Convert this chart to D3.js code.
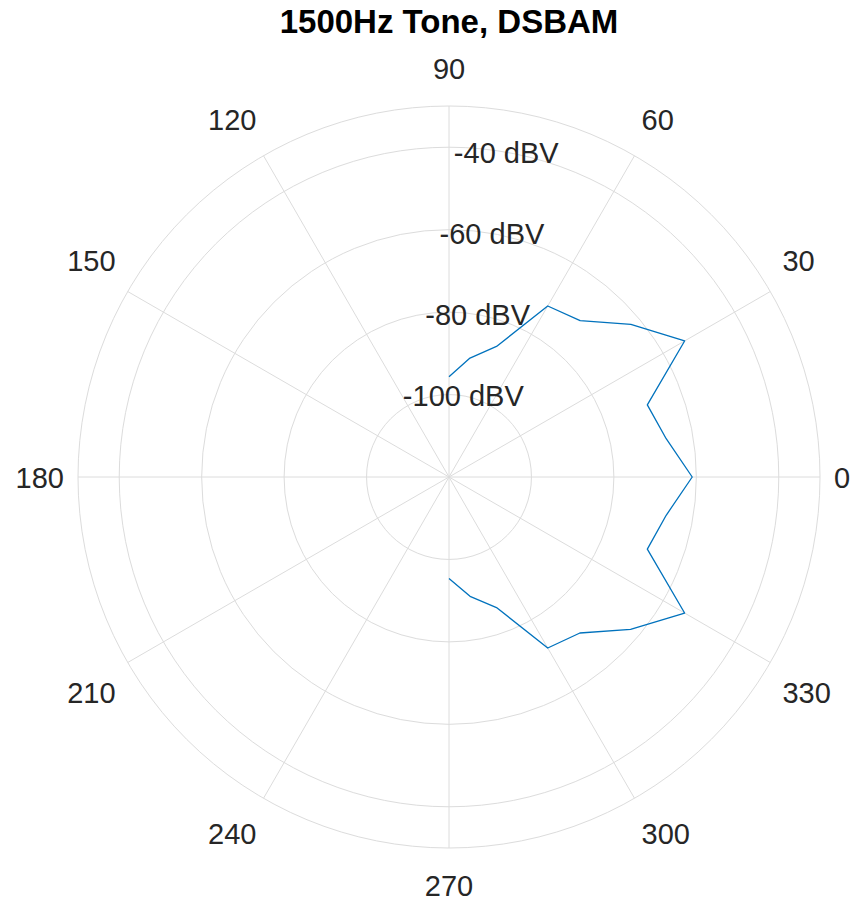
<!DOCTYPE html>
<html>
<head>
<meta charset="utf-8">
<script src="https://cdn.jsdelivr.net/npm/d3@7"></script>
<style>
  html, body { margin: 0; padding: 0; background: #ffffff; }
  svg { display: block; font-family: "Liberation Sans", Arial, Helvetica, sans-serif; }
</style>
</head>
<body>
<svg id="chart" width="854" height="903"></svg>
<script>
// Measured level of the 1500 Hz tone versus bearing (degrees), DSBAM
const thetaDeg = [90, 80, 70, 60, 50, 40, 30, 20, 10, 0, -10, -20, -30, -40, -50, -60, -70, -80, -90];
const levelDbv = [-95.7, -90.7, -86.3, -72.1, -70.5, -62.4, -54.0, -68.8, -66.5, -61.0,
                  -66.5, -68.8, -54.0, -62.5, -70.6, -72.1, -86.3, -90.6, -95.4];

// Axis set-up
const rLimits = [-120, -30];
const rTicks = [-100, -80, -60, -40];
const rTickLabels = ["-100 dBV", "-80 dBV", "-60 dBV", "-40 dBV"];
const thetaTicks = [0, 30, 60, 90, 120, 150, 180, 210, 240, 270, 300, 330];
const thetaTickLabels = ["0", "30", "60", "90", "120", "150", "180", "210", "240", "270", "300", "330"];
const titleText = "1500Hz Tone, DSBAM";

const cx = 449, cy = 477, outerR = 371;
const rAxisAngle = 80;            // radial tick labels sit along this bearing
const gridColor = "#dcdcdc";
const textColor = "#262626";
const lineColor = "#0072bd";

const svg = d3.select("#chart");
const g = svg.append("g").attr("transform", `translate(${cx},${cy})`);

const r = d3.scaleLinear().domain(rLimits).range([0, outerR]);
const toRad = d => d * Math.PI / 180;

// Concentric rings at each radial tick plus the outer edge
const gridG = g.append("g").attr("fill", "none").attr("stroke", gridColor).attr("stroke-width", 1);
gridG.selectAll("circle.ring")
  .data(rTicks)
  .join("circle")
  .attr("class", "ring")
  .attr("r", d => r(d));
gridG.append("circle").attr("r", r(rLimits[1]));

// Spokes every 30 degrees
gridG.selectAll("line.spoke")
  .data(thetaTicks)
  .join("line")
  .attr("class", "spoke")
  .attr("x1", 0).attr("y1", 0)
  .attr("x2", d => r(rLimits[1]) * Math.cos(toRad(d)))
  .attr("y2", d => -r(rLimits[1]) * Math.sin(toRad(d)));

// Data trace
const radial = d3.lineRadial()
  .angle(d => Math.PI / 2 - toRad(d[0]))
  .radius(d => r(d[1]));
g.append("path")
  .datum(d3.zip(thetaDeg, levelDbv))
  .attr("d", radial)
  .attr("fill", "none")
  .attr("stroke", lineColor)
  .attr("stroke-width", 1.3)
  .attr("stroke-linejoin", "round");

// Angular tick labels outside the outer edge
const labelR = outerR + 14;
g.append("g")
  .attr("font-size", 29)
  .attr("fill", textColor)
  .selectAll("text")
  .data(thetaTicks.map((t, i) => ({ t, label: thetaTickLabels[i] })))
  .join("text")
  .attr("text-anchor", d => {
    const c = Math.cos(toRad(d.t));
    return c > 0.01 ? "start" : (c < -0.01 ? "end" : "middle");
  })
  .attr("x", d => labelR * Math.cos(toRad(d.t)))
  .attr("y", d => {
    const s = Math.sin(toRad(d.t));
    const y = -labelR * s;
    if (s > 0.01) return y - 13.5;
    if (s < -0.01) return y + 33.5;
    return y + 11;
  })
  .text(d => d.label);

// Radial tick labels along the r-axis bearing
g.append("g")
  .attr("font-size", 29)
  .attr("fill", textColor)
  .attr("text-anchor", "middle")
  .selectAll("text")
  .data(rTicks.map((v, i) => ({ v, label: rTickLabels[i] })))
  .join("text")
  .attr("x", d => r(d.v) * Math.cos(toRad(rAxisAngle)))
  .attr("y", d => -r(d.v) * Math.sin(toRad(rAxisAngle)) + 10.5)
  .text(d => d.label);

// Title
svg.append("text")
  .attr("x", cx)
  .attr("y", 33)
  .attr("text-anchor", "middle")
  .attr("font-size", 33)
  .attr("font-weight", "bold")
  .attr("fill", "#000000")
  .text(titleText);
</script>
</body>
</html>
